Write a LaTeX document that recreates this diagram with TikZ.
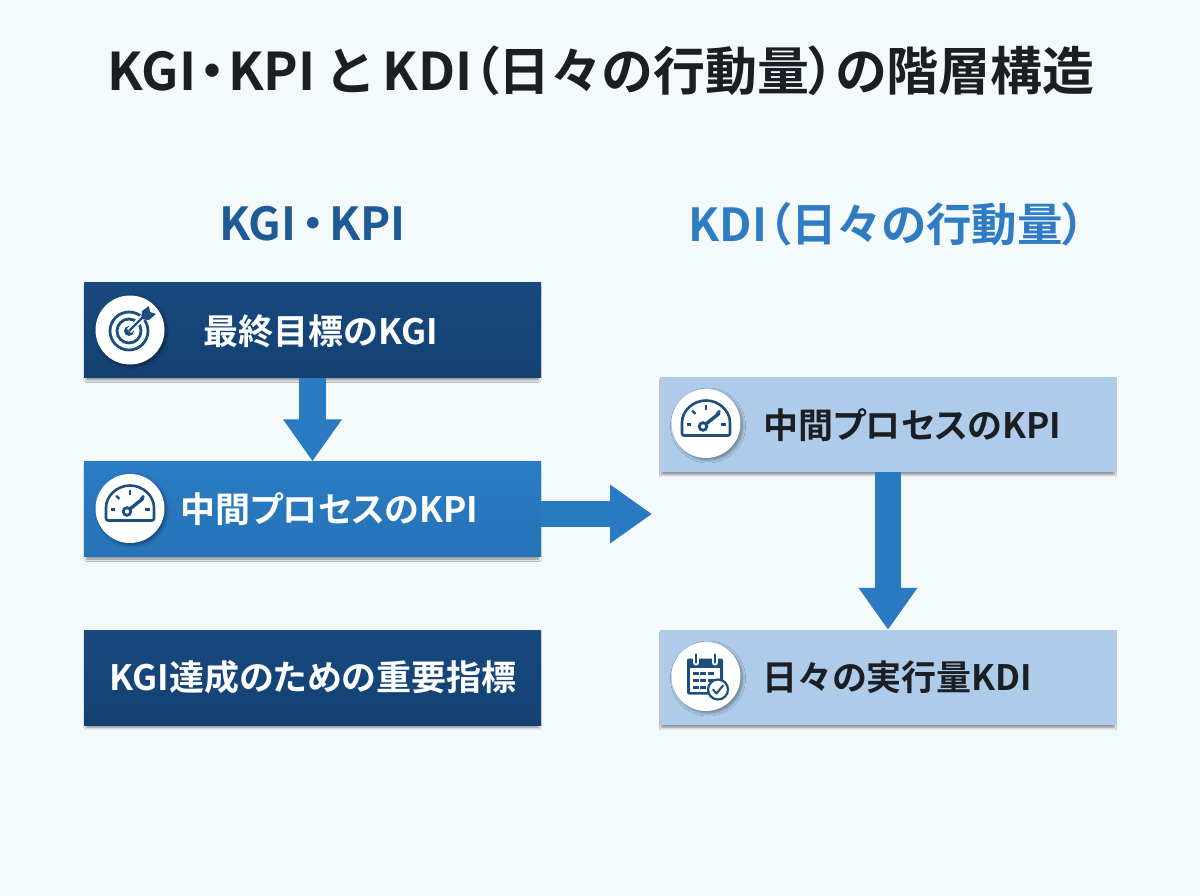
\documentclass[tikz,border=0pt]{standalone}
\usepackage{fontspec}
\setmainfont{Noto Sans CJK JP}[BoldFont={* Bold},RawFeature=+palt]
\usetikzlibrary{arrows.meta,shadows.blur}
\definecolor{navytop}{HTML}{17497F}
\definecolor{navylow}{HTML}{134172}
\definecolor{midtop}{HTML}{2A7CC4}
\definecolor{midlow}{HTML}{2673B8}
\definecolor{paleblue}{HTML}{AECCE9}
\definecolor{inkblue}{HTML}{1D4F7E}
\definecolor{arrowblue}{HTML}{2A7AC2}
\definecolor{headblue}{HTML}{1E5A96}
\definecolor{headlight}{HTML}{2F7CC4}
\definecolor{inkdark}{HTML}{1B1F24}
\definecolor{pagebg}{HTML}{F4F9FC}
\tikzset{
	gaugeicon/.pic={
		\draw[inkblue,line width=2.6pt,line join=round,rounded corners=2pt] (-24,12) -- (-24,1) arc[start angle=180,end angle=360,radius=24] -- (24,12) -- cycle;
		\foreach \a in {180,135,90,45,0} {
			\draw[inkblue,line width=2.2pt] (0,1) ++(\a:-15) -- ++(\a:-4.5);
		}
		\draw[inkblue,line width=3.4pt,line cap=round] (-2,2) -- (13,-10);
		\draw[inkblue,line width=2.8pt,fill=white] (-3,3) circle (3.8);
	},
	targeticon/.pic={
		\draw[inkblue,line width=2.8pt] (-1,1) circle (19);
		\draw[inkblue,line width=2.8pt] (-1,1) circle (12);
		\fill[inkblue] (-1,1) circle (5);
		\draw[white,line width=6pt] (-1,1) -- (18,-18);
		\draw[inkblue,line width=2.2pt] (-1,1) -- (15,-15);
		\fill[inkblue] (11,-11) -- (12,-19) -- (19,-24) -- (20,-18) -- (26,-16) -- (19,-10) -- cycle;
	},
	calendaricon/.pic={
		\fill[inkblue,rounded corners=2pt] (-19,-18) rectangle (17,18);
		\fill[white] (-16,-9) rectangle (14,15);
		\foreach \x/\y in {-13/-5,-6/-5,2/-5,-13/2,-6/2,2/2,-13/9,-6/9} {
			\fill[inkblue] (\x,\y) rectangle ++(6,3.6);
		}
		\foreach \x in {-10,9} {
			\draw[white,line width=6pt,line cap=round] (\x,-22) -- (\x,-14);
			\draw[inkblue,line width=2.6pt,line cap=round] (\x,-22) -- (\x,-14);
		}
		\draw[inkblue,line width=2.2pt,fill=white] (12,13) circle (10);
		\draw[inkblue,line width=2pt,line cap=round,line join=round] (7,13) -- (10.5,17) -- (17,9);
	},
}
\begin{document}
\begin{tikzpicture}[
	x=1pt, y=-1pt,
	box/.style={ rectangle, inner sep=0pt, minimum width=457pt, minimum height=95pt,
		blur shadow={shadow xshift=0pt, shadow yshift=-3pt, shadow scale=0.99, shadow blur radius=2.5pt, shadow blur steps=6, shadow opacity=45} },
	kgibox/.style={ box, top color=navytop, bottom color=navylow },
	kpibox/.style={ box, top color=midtop, bottom color=midlow },
	kdibox/.style={ box, fill=paleblue },
	badge/.style={ circle, fill=white, inner sep=0pt, minimum size=69pt,
		blur shadow={shadow xshift=2pt, shadow yshift=-2pt, shadow blur radius=3pt, shadow blur steps=6, shadow opacity=40} },
	flow/.style={ arrowblue, line width=26.5pt, -{Triangle[length=42pt,width=56pt]} },
	lightlabel/.style={ inner sep=0pt, text=white, font=\fontsize{35}{41}\selectfont\bfseries },
	darklabel/.style={ inner sep=0pt, text=inkdark, font=\fontsize{35}{41}\selectfont\bfseries },
	heading/.style={ inner sep=0pt, font=\fontsize{45.5}{54}\selectfont\bfseries },
]

\useasboundingbox (0,0) rectangle (1200,896);
\fill[pagebg] (0,0) rectangle (1200,896);

\node at (601,71) (title) [inner sep=0pt,text=inkdark,font=\fontsize{52}{62}\selectfont\bfseries] {KGI\kern3pt・\kern3ptKPI と KDI（日々の行動量）の階層構造};

\node at (312.5,224) (headleft) [heading,text=headblue] {KGI\kern5pt・\kern5ptKPI};
\node at (887,224) (headright) [heading,text=headlight] {KDI\kern1pt（日々の行動量）};

\node at (312.5,330) (kgi) [kgibox] {};
\node at (312.5,509) (kpi) [kpibox] {};
\node at (312.5,677.5) (goal) [kgibox] {};
\node at (888,424.5) (kpiright) [kdibox] {};
\node at (888,677.5) (kdi) [kdibox] {};

\coordinate (kpiout) at (652,514);
\coordinate (kpistart) at (541,514);

\draw[flow] (kgi.south) -- (kpi.north);
\draw[flow] (kpistart) -- (kpiout);
\draw[flow] (kpiright.south) -- (kdi.north);

\node at (130,330) (targetbadge) [badge] {};
\node at (130,508.5) (gaugebadge) [badge] {};
\node at (706,423.5) (gaugeright) [badge] {};
\node at (706,676.5) (calendarbadge) [badge] {};

\pic at (targetbadge) {targeticon};
\pic at (gaugebadge) {gaugeicon};
\pic at (gaugeright) {gaugeicon};
\pic at (calendarbadge) {calendaricon};

\node at (321,331) (kgitext) [lightlabel] {最終目標のKGI};
\node at (329,509) (kpitext) [lightlabel] {中間プロセスのKPI};
\node at (313,677) (goaltext) [lightlabel] {KGI達成のための重要指標};
\node at (912,425) (kpirighttext) [darklabel] {中間プロセスのKPI};
\node at (897.5,677) (kditext) [darklabel] {日々の実行量KDI};

\end{tikzpicture}
\end{document}
